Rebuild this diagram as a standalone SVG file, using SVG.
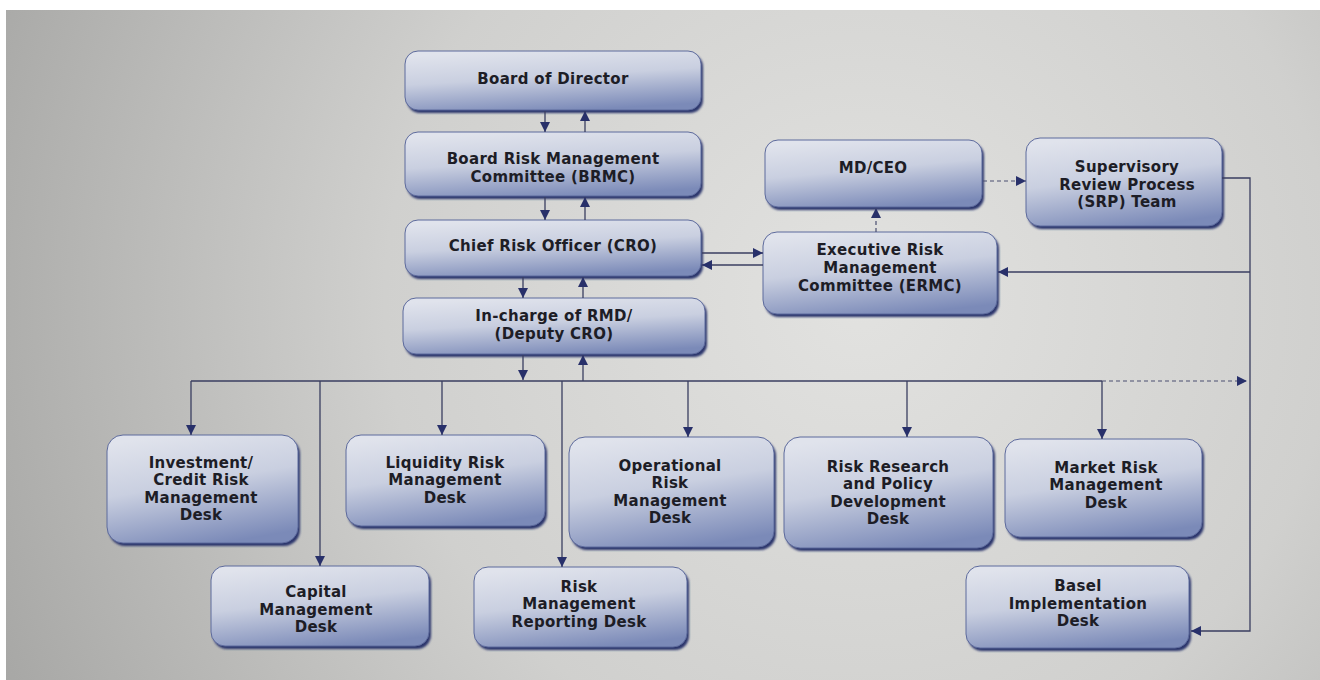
<svg xmlns="http://www.w3.org/2000/svg" width="1320" height="680" viewBox="0 0 1320 680">
<defs>
<radialGradient id="bg" cx="860" cy="300" r="950" gradientUnits="userSpaceOnUse">
<stop offset="0" stop-color="#e2e2e0"/>
<stop offset="0.5" stop-color="#d0d0ce"/>
<stop offset="1" stop-color="#a6a6a4"/>
</radialGradient>
<linearGradient id="box" x1="0.3" y1="0" x2="0.6" y2="1">
<stop offset="0" stop-color="#e0e3ec"/>
<stop offset="0.45" stop-color="#c9cfe0"/>
<stop offset="1" stop-color="#7b8ab8"/>
</linearGradient>
<filter id="sh" x="-10%" y="-10%" width="120%" height="130%">
<feGaussianBlur stdDeviation="1.2"/>
</filter>
<marker id="ah" viewBox="0 0 10 10" refX="10" refY="5" markerWidth="10" markerHeight="10" markerUnits="userSpaceOnUse" orient="auto">
<path d="M0,0 L10,5 L0,10 z" fill="#28306a"/>
</marker>
</defs>
<style>
.shadow{fill:#2b356c;filter:url(#sh);}
.b{fill:url(#box);stroke:#5d6a9c;stroke-width:1;}
.t{font-family:"DejaVu Sans",sans-serif;font-weight:700;font-size:15px;letter-spacing:0.3px;fill:#1d1d26;text-anchor:middle;}
.c{fill:none;stroke:#3a3e60;stroke-width:1.3;}
.d{fill:none;stroke:#4a4e70;stroke-width:1.2;stroke-dasharray:4 3;}
.a{marker-end:url(#ah);}
</style>
<rect x="0" y="0" width="1320" height="680" fill="#ffffff"/>
<rect x="6" y="10" width="1314" height="670" fill="url(#bg)"/>

<g id="board">
<rect class="shadow" x="407" y="54" width="296" height="59" rx="13"/>
<rect class="b" x="405" y="51" width="296" height="59" rx="13"/>
<text class="t" x="553" y="83.5">Board of Director</text>
</g>
<g id="brmc">
<rect class="shadow" x="407" y="135" width="296" height="64" rx="13"/>
<rect class="b" x="405" y="132" width="296" height="64" rx="13"/>
<text class="t" x="553" y="163.5">Board Risk Management<tspan x="553" dy="18.5">Committee (BRMC)</tspan></text>
</g>
<g id="cro">
<rect class="shadow" x="407" y="223" width="296" height="56" rx="13"/>
<rect class="b" x="405" y="220" width="296" height="56" rx="13"/>
<text class="t" x="553" y="250.5">Chief Risk Officer (CRO)</text>
</g>
<g id="rmd">
<rect class="shadow" x="405" y="301" width="302" height="56" rx="13"/>
<rect class="b" x="403" y="298" width="302" height="56" rx="13"/>
<text class="t" x="554" y="320.5">In-charge of RMD/<tspan x="554" dy="18">(Deputy CRO)</tspan></text>
</g>
<g id="mdceo">
<rect class="shadow" x="767" y="143" width="217" height="67" rx="13"/>
<rect class="b" x="765" y="140" width="217" height="67" rx="13"/>
<text class="t" x="873" y="172.5">MD/CEO</text>
</g>
<g id="srp">
<rect class="shadow" x="1028" y="141" width="196" height="88" rx="14"/>
<rect class="b" x="1026" y="138" width="196" height="88" rx="14"/>
<text class="t" x="1127" y="172">Supervisory<tspan x="1127" dy="17.5">Review Process</tspan><tspan x="1127" dy="17.5">(SRP) Team</tspan></text>
</g>
<g id="ermc">
<rect class="shadow" x="765" y="235" width="234" height="82" rx="14"/>
<rect class="b" x="763" y="232" width="234" height="82" rx="14"/>
<text class="t" x="880" y="254.5">Executive Risk<tspan x="880" dy="18">Management</tspan><tspan x="880" dy="18">Committee (ERMC)</tspan></text>
</g>
<g id="investment">
<rect class="shadow" x="109" y="438" width="191" height="108" rx="16"/>
<rect class="b" x="107" y="435" width="191" height="108" rx="16"/>
<text class="t" x="201" y="467.5">Investment/<tspan x="201" dy="17.5">Credit Risk</tspan><tspan x="201" dy="17.5">Management</tspan><tspan x="201" dy="17.5">Desk</tspan></text>
</g>
<g id="liquidity">
<rect class="shadow" x="348" y="438" width="199" height="91" rx="15"/>
<rect class="b" x="346" y="435" width="199" height="91" rx="15"/>
<text class="t" x="445" y="467.5">Liquidity Risk<tspan x="445" dy="17.5">Management</tspan><tspan x="445" dy="17.5">Desk</tspan></text>
</g>
<g id="operational">
<rect class="shadow" x="571" y="440" width="205" height="110" rx="16"/>
<rect class="b" x="569" y="437" width="205" height="110" rx="16"/>
<text class="t" x="670" y="470.5">Operational<tspan x="670" dy="17.5">Risk</tspan><tspan x="670" dy="17.5">Management</tspan><tspan x="670" dy="17.5">Desk</tspan></text>
</g>
<g id="research">
<rect class="shadow" x="786" y="440" width="209" height="111" rx="16"/>
<rect class="b" x="784" y="437" width="209" height="111" rx="16"/>
<text class="t" x="888" y="471.5">Risk Research<tspan x="888" dy="17.5">and Policy</tspan><tspan x="888" dy="17.5">Development</tspan><tspan x="888" dy="17.5">Desk</tspan></text>
</g>
<g id="market">
<rect class="shadow" x="1007" y="442" width="197" height="98" rx="15"/>
<rect class="b" x="1005" y="439" width="197" height="98" rx="15"/>
<text class="t" x="1106" y="472.5">Market Risk<tspan x="1106" dy="17.5">Management</tspan><tspan x="1106" dy="17.5">Desk</tspan></text>
</g>
<g id="capital">
<rect class="shadow" x="213" y="569" width="218" height="80" rx="14"/>
<rect class="b" x="211" y="566" width="218" height="80" rx="14"/>
<text class="t" x="316" y="597">Capital<tspan x="316" dy="17.5">Management</tspan><tspan x="316" dy="17.5">Desk</tspan></text>
</g>
<g id="reporting">
<rect class="shadow" x="476" y="570" width="213" height="80" rx="14"/>
<rect class="b" x="474" y="567" width="213" height="80" rx="14"/>
<text class="t" x="579" y="591.5">Risk<tspan x="579" dy="17.5">Management</tspan><tspan x="579" dy="17.5">Reporting Desk</tspan></text>
</g>
<g id="basel">
<rect class="shadow" x="968" y="569" width="223" height="82" rx="14"/>
<rect class="b" x="966" y="566" width="223" height="82" rx="14"/>
<text class="t" x="1078" y="591">Basel<tspan x="1078" dy="17.5">Implementation</tspan><tspan x="1078" dy="17.5">Desk</tspan></text>
</g>

<g id="connectors">
<line class="c a" x1="545" y1="111" x2="545" y2="132"/>
<line class="c a" x1="585" y1="132" x2="585" y2="111"/>
<line class="c a" x1="545" y1="197" x2="545" y2="220"/>
<line class="c a" x1="585" y1="220" x2="585" y2="197"/>
<line class="c a" x1="523" y1="277" x2="523" y2="298"/>
<line class="c a" x1="583" y1="298" x2="583" y2="277"/>
<line class="c a" x1="523" y1="355" x2="523" y2="380"/>
<line class="c a" x1="583" y1="381" x2="583" y2="355"/>
<line class="c a" x1="702" y1="253" x2="763" y2="253"/>
<line class="c a" x1="763" y1="265" x2="702" y2="265"/>
<line class="d a" x1="876" y1="232" x2="876" y2="208"/>
<line class="d a" x1="983" y1="181" x2="1026" y2="181"/>
<polyline class="c a" points="1222,178 1250,178 1250,631 1191,631"/>
<line class="c a" x1="1250" y1="272" x2="998" y2="272"/>
<polyline class="c" points="191,381 1102,381"/>
<line class="d a" x1="1102" y1="381" x2="1247" y2="381"/>
<line class="c a" x1="191" y1="381" x2="191" y2="435"/>
<line class="c a" x1="320" y1="381" x2="320" y2="566"/>
<line class="c a" x1="442" y1="381" x2="442" y2="435"/>
<line class="c a" x1="562" y1="381" x2="562" y2="567"/>
<line class="c a" x1="688" y1="381" x2="688" y2="437"/>
<line class="c a" x1="907" y1="381" x2="907" y2="437"/>
<line class="c a" x1="1102" y1="381" x2="1102" y2="439"/>
</g>
</svg>
